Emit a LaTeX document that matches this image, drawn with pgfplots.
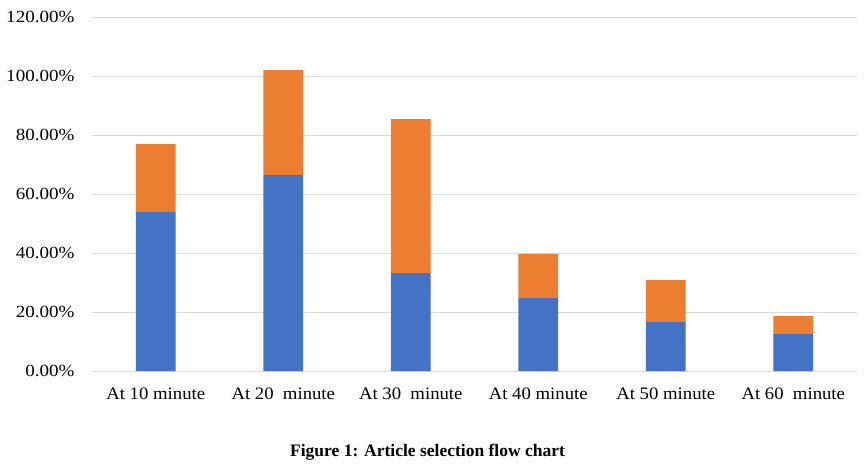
\documentclass[border=0pt]{standalone}
\usepackage{pgfplots}
\pgfplotsset{compat=1.18}
\usepackage{fontspec}
\setmainfont{Liberation Serif}
\newfontfamily\ywide[FakeStretch=1.12]{Liberation Serif}
\newfontfamily\xwide[FakeStretch=1.07]{Liberation Serif}
\definecolor{xlblue}{HTML}{4472C4}
\definecolor{xlorange}{HTML}{ED7D31}
\definecolor{xlgrid}{HTML}{D9D9D9}
\begin{document}
\begin{tikzpicture}
\begin{axis}[
  scale only axis,
  width=765pt, height=354pt,
  ybar stacked,
  bar width=0.31,
  xmin=-0.5, xmax=5.5,
  ymin=0, ymax=120,
  ytick={0,20,40,60,80,100,120},
  yticklabel={\pgfmathprintnumber[fixed,fixed zerofill,precision=2]{\tick}\%},
  /pgf/number format/assume math mode=true,
  xtick={0,1,2,3,4,5},
  xticklabels={At 10 minute, At 20\ \ minute, At 30\ \ minute, At 40 minute, At 50 minute, At 60\ \ minute},
  ymajorgrids,
  grid style={xlgrid, line width=0.8pt},
  axis line style={draw=none},
  axis x line*=bottom,
  axis y line*=left,
  major tick length=0pt,
  tick style={draw=none},
  yticklabel style={font=\ywide\fontsize{17}{20}\selectfont, xshift=-14pt},
  xticklabel style={font=\xwide\fontsize{17.5}{20}\selectfont, yshift=-13pt},
  clip=false,
]
\addplot[fill=xlblue, draw=none] coordinates {(0,53.9) (1,66.4) (2,33.2) (3,24.7) (4,16.6) (5,12.5)};
\addplot[fill=xlorange, draw=none] coordinates {(0,23.0) (1,35.6) (2,52.2) (3,15.0) (4,14.2) (5,6.1)};
\draw[xlgrid, line width=0.8pt] (rel axis cs:0,0) -- (rel axis cs:1,0);
\node[font=\fontsize{17.5}{20}\selectfont\bfseries] at (rel axis cs:0.4386,-0.229) {Figure 1: Article selection flow chart};
\path (rel axis cs:0,0) ++(-92pt,-98pt);
\path (rel axis cs:1,1) ++(10pt,17pt);
\end{axis}
\end{tikzpicture}
\end{document}
